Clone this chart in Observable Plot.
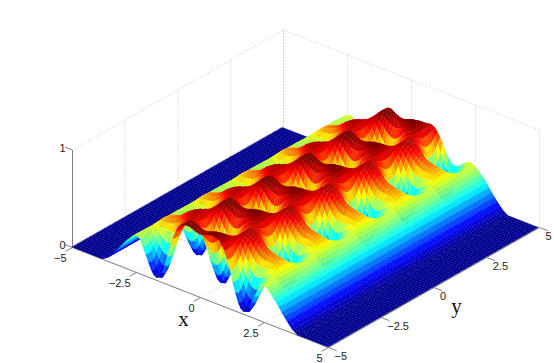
<!DOCTYPE html>
<html><head><meta charset="utf-8">
<script src="https://cdn.jsdelivr.net/npm/d3@7"></script>
<script src="https://cdn.jsdelivr.net/npm/@observablehq/plot@0.6"></script>
<style>html,body{margin:0;padding:0;background:#fff}svg{display:block}</style>
</head><body><div id="chart"></div>
<script>
// Heights are estimates fitted by eye to the picture. The surface repeats as a lattice and is
// close to mirror-symmetric, so half a repeat is listed: each array holds z at x = 0, 0.106, 0.2125, ...
// for one y offset from a row of holes, and the shared tail is the smooth outer slope.
const profile0 = [.660,.663,.671,.681,.686,.686,.679,.662,.627,.567,.483,.379,.268,.162,.075,.019,.012,.018,.066,.133,.207,.275,.348,.374,.369,.348];
const profile1 = [.643,.647,.658,.670,.679,.680,.675,.661,.627,.570,.490,.393,.285,.182,.098,.044,.025,.041,.086,.151,.220,.285,.352,.374,.369,.348];
const profile2 = [.589,.596,.612,.632,.651,.663,.665,.654,.627,.580,.512,.427,.331,.239,.163,.112,.094,.106,.143,.199,.256,.308,.363,.379,.369,.347];
const profile3 = [.497,.506,.530,.564,.599,.625,.642,.643,.627,.594,.544,.476,.398,.322,.256,.210,.191,.197,.226,.266,.309,.344,.379,.384,.369,.346];
const profile4 = [.374,.386,.421,.471,.525,.574,.608,.627,.627,.611,.577,.530,.472,.412,.359,.319,.298,.300,.316,.341,.366,.383,.397,.389,.369,.345];
const profile5 = [.239,.255,.302,.368,.444,.515,.573,.611,.627,.626,.608,.578,.538,.493,.450,.417,.398,.393,.398,.408,.416,.418,.412,.394,.369,.343];
const profile6 = [.117,.136,.191,.274,.369,.462,.540,.596,.627,.636,.631,.613,.585,.553,.520,.491,.472,.461,.458,.457,.454,.443,.425,.398,.369,.342];
const profile7 = [.031,.053,.115,.209,.316,.425,.517,.587,.627,.643,.641,.629,.610,.586,.559,.533,.514,.502,.493,.485,.473,.455,.431,.401,.369,.342];
const profile8 = [.012,.023,.088,.186,.299,.411,.509,.583,.627,.645,.644,.634,.616,.596,.570,.546,.528,.514,.503,.492,.478,.459,.433,.402,.369,.340];
const outerSlope = [.315,.285,.25,.21,.17,.135,.10,.065,.035,.015,0,0];
const profiles = [profile0,profile1,profile2,profile3,profile4,profile5,profile6,profile7,profile8];
const tickValues = [-5,-2.5,0,2.5,5];
const zTicks = [0,1];
const tickText = ["−5","−2.5","0","2.5","5"];

const xStep = 0.10625, yStep = 0.116875, holeRow = -4.85;
const half = d3.range(38).map(k => k*xStep);
const xValues = [-5, ...half.slice(1).reverse().map(d=>-d), ...half, 5];
const yValues = d3.range(-1,85).map(t => t<0 ? -5 : holeRow + t*yStep);
const fullRow = t => {
  const m = ((t%16)+16)%16, p = profiles[m<=8 ? m : 16-m];
  const h = [...p, ...outerSlope];
  return [0, ...h.slice(1).reverse(), ...h, 0];
};
const rows = yValues.map((_,j)=>fullRow(j-1));

const px = (x,y) => 72 + (x+5)*25.6 + (y+5)*21.1;
const py = (x,y,z) => 247 + (x+5)*10 - (y+5)*12 - z*97.5;

const quads = [];
for (let j = yValues.length-2; j >= 0; --j) {
  for (let i = 0; i < xValues.length-1; ++i) {
    const [xa,xb,ya,yb] = [xValues[i],xValues[i+1],yValues[j],yValues[j+1]];
    const a=rows[j][i], b=rows[j][i+1], c=rows[j+1][i], d=rows[j+1][i+1];
    const h=(a+b+c+d)/4, id=j*1000+i;
    quads.push({id,h,x1:px(xa,ya),y1:py(xa,ya,a),x2:px(xa,yb),y2:py(xa,yb,c)});
    quads.push({id,h,x1:px(xb,ya),y1:py(xb,ya,b),x2:px(xb,yb),y2:py(xb,yb,d)});
  }
}
const seg=(p,q)=>({x1:px(p[0],p[1]),y1:py(p[0],p[1],p[2]),x2:px(q[0],q[1]),y2:py(q[0],q[1],q[2])});
const dotted=[];
for(const t of tickValues){
  dotted.push(seg([t,-5,0],[t,5,0]),seg([-5,t,0],[5,t,0]),seg([-5,t,0],[-5,t,1]),seg([t,5,0],[t,5,1]));
}
dotted.push(seg([-5,-5,1],[-5,5,1]),seg([-5,5,1],[5,5,1]));
const solid=[seg([-5,-5,0],[5,-5,0]),seg([5,-5,0],[5,5,0]),seg([-5,-5,0],[-5,-5,1])];
for(const t of tickValues){ solid.push(seg([t,-5,0],[t,-5.32,0]),seg([5,t,0],[5.32,t,0])); }
for(const t of zTicks){ solid.push(seg([-5,-5,t],[-5.3,-5,t])); }
const xLab=tickValues.map((t,i)=>({x:px(t,-5),y:py(t,-5,0),s:tickText[i]}));
const yLab=tickValues.map((t,i)=>({x:px(5,t),y:py(5,t,0),s:tickText[i]}));
const zLab=zTicks.map(t=>({x:px(-5,-5),y:py(-5,-5,t),s:String(t)}));
const font={fontFamily:"Liberation Sans, Arial, sans-serif",fontSize:11,fill:"#222"};

const chart=Plot.plot({
  width:554,height:363,margin:0,
  x:{domain:[0,554],range:[0,554],axis:null},
  y:{domain:[0,363],range:[0,363],axis:null},
  color:{type:"linear",domain:[0,.075,.245,.41,.58,.675],range:["#00008f","#0000ff","#00ffff","#ffff00","#ff0000","#800000"]},
  marks:[
    Plot.link(dotted,{x1:"x1",y1:"y1",x2:"x2",y2:"y2",stroke:"#b8b8b8",strokeWidth:.8,strokeDasharray:"1,2"}),
    Plot.link(solid,{x1:"x1",y1:"y1",x2:"x2",y2:"y2",stroke:"#808080",strokeWidth:1}),
    Plot.area(quads,{x1:"x1",y1:"y1",x2:"x2",y2:"y2",z:"id",fill:"h",stroke:"h",strokeWidth:.3}),
    Plot.text(xLab,{x:"x",y:"y",text:"s",dx:-6,dy:11,textAnchor:"end",...font}),
    Plot.text(yLab,{x:"x",y:"y",text:"s",dx:6,dy:9,textAnchor:"start",...font}),
    Plot.text(zLab,{x:"x",y:"y",text:"s",dx:-7,dy:-2,textAnchor:"end",...font}),
    Plot.text(["x"],{x:[183],y:[319],text:d=>d,fontFamily:"Liberation Serif, serif",fontSize:21,fill:"#111"}),
    Plot.text(["y"],{x:[456],y:[306],text:d=>d,fontFamily:"Liberation Serif, serif",fontSize:21,fill:"#111"})
  ]
});
document.getElementById("chart").append(chart);
</script></body></html>
